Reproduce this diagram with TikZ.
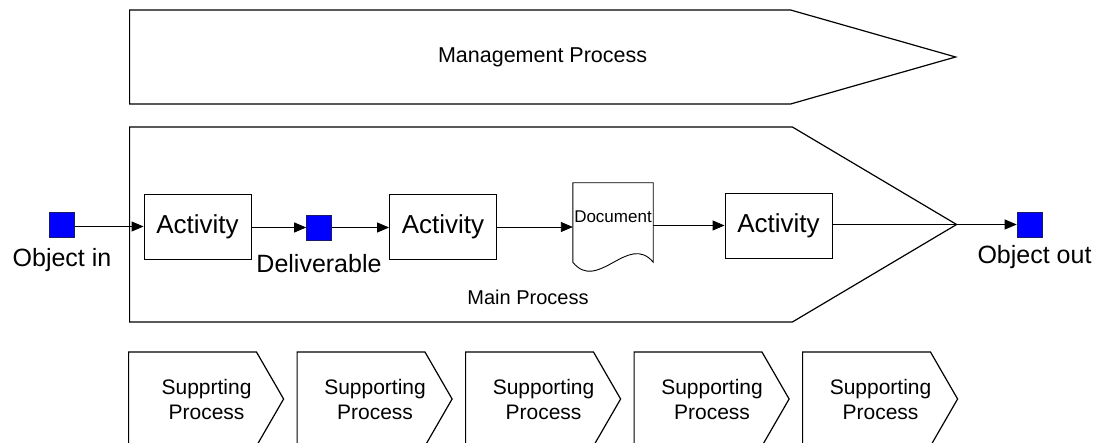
\documentclass[tikz,border=0pt]{standalone}
\usepackage{fontspec}
\setmainfont{Liberation Sans}
\usetikzlibrary{shapes.symbols, arrows.meta, positioning}
\definecolor{objblue}{HTML}{0000FF}
\definecolor{objedge}{HTML}{1A1A66}

\begin{document}
\begin{tikzpicture}[x=1pt, y=-1pt,
  proc/.style={signal, signal to=east, draw, line width=1.2pt, inner sep=0pt, anchor=west},
  act/.style={rectangle, draw, line width=0.9pt, minimum width=107pt,
    minimum height=65pt, font=\fontsize{26}{30}\selectfont},
  obj/.style={rectangle, draw=objedge, fill=objblue, minimum size=25pt,
    inner sep=0pt, line width=0.6pt},
  docnode/.style={rectangle, minimum width=80pt, minimum height=79pt,
    inner sep=0pt, text depth=11pt, font=\fontsize{17}{20}\selectfont},
  lbl/.style={inner sep=0pt, font=\fontsize{25}{30}\selectfont},
  arr/.style={-{Triangle[length=12pt,width=10pt]}, line width=0.9pt},
  node distance=10pt,
]
  \useasboundingbox (0,0) rectangle (1094,443);

  % process arrows (text sits mid-way incl. the point)
  \node[proc, minimum width=826pt, minimum height=94pt, signal pointer angle=31.8,
    label={[xshift=82.5pt, font=\fontsize{21.5}{26}\selectfont]center:Management Process}]
    (mgmt) at (129,57) {};
  \node[proc, minimum width=827pt, minimum height=195pt, signal pointer angle=61.4]
    (main) at (129,224.5) {};
  \node[font=\fontsize{20}{24}\selectfont] (mainlbl) at (528,297) {Main Process};
  \foreach \i/\txt in {0/Supprting,1/Supporting,2/Supporting,3/Supporting,4/Supporting}
    \node[proc, minimum width=155pt, minimum height=94pt, signal pointer angle=120,
      label={[xshift=14pt, align=center, font=\fontsize{21}{25}\selectfont]center:\txt\\Process}]
      (sup\i) at (128+168.5*\i,399) {};

  % objects and activities
  \node[obj] (objin) at (62,225) {};
  \node[act] (act1) at (197.5,226.5) {Activity};
  \node[obj] (deliv) at (319,227.5) {};
  \node[act] (act2) at (443,227) {Activity};
  \node[docnode] (doc) at (613,222.5) {Document};
  \node[act] (act3) at (778.5,225.5) {Activity};
  \node[obj] (objout) at (1029.5,224.5) {};

  \node[lbl, below=10pt of objin] (objinlbl) {Object in};
  \node[lbl, below=14pt of deliv] (delivlbl) {Deliverable};
  \node[lbl, below=8pt of objout, xshift=5pt] (objoutlbl) {Object out};

  % document outline with wavy foot
  \draw[line width=0.9pt] (doc.south west) -- (doc.north west) -- (doc.north east)
    -- (doc.south east) .. controls ([shift={(-25pt,30pt)}]doc.south east)
    and ([shift={(25pt,-31pt)}]doc.south west) .. (doc.south west);

  % flow
  \draw[arr] (objin.east |- act1) -- (act1);
  \draw[arr] (act1.east |- deliv) -- (deliv);
  \draw[arr] (deliv) -- (deliv -| act2.west);
  \draw[arr] (act2) -- (act2 -| doc.west);
  \draw[arr] (doc.east |- act3) -- (act3);
  \draw[line width=0.9pt] (act3.east |- main.east) -- (main.east);
  \draw[arr] (main.east) -- (objout);
\end{tikzpicture}
\end{document}
